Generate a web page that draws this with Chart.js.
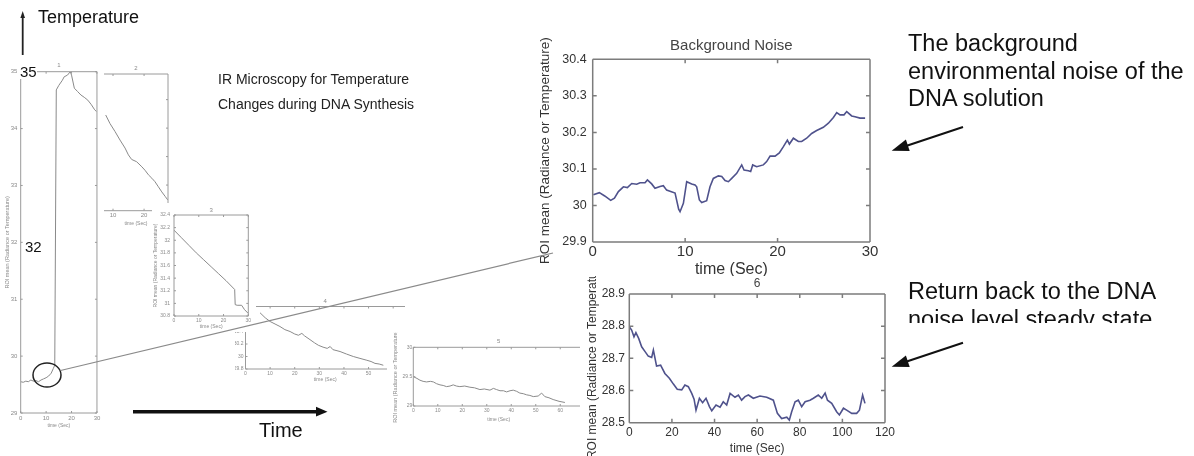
<!DOCTYPE html>
<html><head><meta charset="utf-8">
<script src="https://cdn.jsdelivr.net/npm/chart.js@4.4.0/dist/chart.umd.min.js"></script>
<style>
html,body{margin:0;padding:0;background:#fff;}
body{width:1194px;height:456px;position:relative;overflow:hidden;font-family:"Liberation Sans",Arial,sans-serif;}
canvas{position:absolute;background:#fff;}
.t{position:absolute;white-space:nowrap;line-height:1;color:#111;}
</style></head><body>
<canvas id="p1"></canvas>
<canvas id="p2"></canvas>
<canvas id="p4"></canvas>
<canvas id="p5"></canvas>
<canvas id="p3"></canvas>
<canvas id="p6"></canvas>
<canvas id="p7"></canvas>
<svg width="1194" height="456" style="position:absolute;left:0;top:0;pointer-events:none">
  <line x1="22.7" y1="55" x2="22.7" y2="16" stroke="#222" stroke-width="1.8"/>
  <polygon points="22.7,11 20.4,18 25,18" fill="#222"/>
  <line x1="133" y1="411.7" x2="318" y2="411.7" stroke="#111" stroke-width="3.5"/>
  <polygon points="327.5,411.7 316,406.8 316,416.6" fill="#111"/>
  <ellipse cx="47" cy="375" rx="14" ry="12" fill="none" stroke="#222" stroke-width="1.5"/>
  <line x1="60.5" y1="370.5" x2="553" y2="253" stroke="#8a8a8a" stroke-width="1.2"/>
  <line x1="963" y1="127" x2="906" y2="146" stroke="#111" stroke-width="2"/>
  <polygon points="891.7,150.7 909.7,151.0 905.9,139.6" fill="#111"/>
  <line x1="963" y1="342.7" x2="906" y2="361.7" stroke="#111" stroke-width="2"/>
  <polygon points="891.7,366.7 909.7,367.0 905.9,355.6" fill="#111"/>
</svg>
<div class="t" style="left:38px;top:8px;font-size:18px;">Temperature</div>
<div class="t" style="left:20px;top:64px;font-size:15px;background:#fff;">35</div>
<div class="t" style="left:25px;top:239px;font-size:15px;">32</div>
<div class="t" style="left:218px;top:72px;font-size:14px;color:#222;">IR Microscopy for Temperature</div>
<div class="t" style="left:218px;top:97px;font-size:14px;color:#222;">Changes during DNA Synthesis</div>
<div class="t" style="left:259px;top:420px;font-size:20px;">Time</div>
<div class="t" style="left:908px;top:30px;font-size:23.5px;line-height:27.5px;">The background<br>environmental noise of the<br>DNA solution</div>
<div class="t" style="left:908px;top:278px;height:45px;overflow:hidden;font-size:23.5px;line-height:27.5px;">Return back to the DNA<br>noise level steady state</div>
<script>
// ---------- data ----------
const p1Time = [0,1,2,3,4,5,6,7,8,9,10,11,12,12.8,13.4,14,15,16.4,17.1,18.4,19.5,20,21.1,22.4,23.7,25,26.4,27.8,29.1,29.8];
const p1Temp = [29.55,29.54,29.56,29.55,29.58,29.56,29.57,29.55,29.58,29.6,29.62,29.65,29.7,29.78,29.84,34.68,34.76,34.85,34.91,34.94,35.0,34.94,34.71,34.65,34.59,34.55,34.5,34.42,34.33,34.3];
const p1XTicks = [0,10,20,30];
const p1YTicks = [29,30,31,32,33,34,35];

const p2Time = [7.65,9.03,10.65,12.26,13.87,14.95,16.0,17.6,19.3,20.3,21.4,22.5,23.5,24.6,25.7,26.8,27.6];
const p2Temp = [33.73,33.58,33.44,33.29,33.15,33.03,32.95,32.91,32.82,32.76,32.68,32.62,32.56,32.47,32.38,32.30,32.24];
const p2XTicks = [10,20];
const p2YTicks = [32.5,33,33.5,34];

const p3Time = [0,3,6,9,12,15,18,21,24.5,24.7,25.5,27.3,28.5,30];
const p3Temp = [32.16,32.04,31.92,31.8,31.69,31.58,31.47,31.36,31.22,30.98,30.97,30.97,30.9,30.84];
const p3XTicks = [0,10,20,30];
const p3YTicks = [30.8,31,31.2,31.4,31.6,31.8,32,32.2,32.4];

const p4Time = [5.9,8,10,12,14,16,18.1,20,21.5,22.9,24,26.2,28,29.6,31.5,33.2,34.4,35.5,38.4,41,43.8,46.5,49.3,51,52.6,54.3,56];
const p4Temp = [30.70,30.62,30.56,30.52,30.48,30.43,30.40,30.36,30.34,30.37,30.33,30.27,30.22,30.18,30.15,30.13,30.16,30.11,30.08,30.04,30.00,29.97,29.94,29.92,29.89,29.88,29.86];
const p4XTicks = [0,10,20,30,40,50,60];
const p4YTicks = [29.8,30,30.2,30.4,30.6,30.8];

const p5Time = [0,1.5,2.7,4,5.4,7,8.2,9.5,10.9,12.2,13.6,15,16.3,17.6,19,21,23.1,25,27.2,29,31.3,32.7,34,35.4,36.8,38.1,39.5,40.8,42.2,43.5,44.9,46.3,47.6,49,51,52.4,53.7,55.4,57.1,59.5,61.9];
const p5Temp = [29.5,29.47,29.44,29.42,29.41,29.42,29.41,29.38,29.36,29.35,29.33,29.34,29.36,29.34,29.33,29.34,29.32,29.31,29.28,29.29,29.27,29.3,29.28,29.26,29.26,29.24,29.26,29.27,29.25,29.22,29.21,29.19,29.18,29.16,29.17,29.22,29.16,29.14,29.11,29.08,29.06];
const p5XTicks = [0,10,20,30,40,50,60];
const p5YTicks = [29,29.5,30];

const noiseTime = [0.07,0.72,1.3,1.95,2.35,2.78,3.32,3.75,4.22,4.76,5.12,5.66,5.92,6.38,6.74,7.28,7.64,8.0,8.44,8.91,9.3,9.45,9.81,10.17,10.71,11.07,11.25,11.54,11.79,12.33,12.69,13.05,13.6,13.96,14.32,14.68,15.04,15.58,16.12,16.37,16.84,17.09,17.31,17.74,18.46,18.82,19.19,19.73,20.19,20.63,21.06,21.28,21.71,22.25,22.61,23.15,23.69,24.23,24.95,25.5,26.04,26.4,26.76,27.19,27.48,28.02,28.38,28.92,29.47];
const noiseTemp = [30.029,30.035,30.026,30.014,30.02,30.038,30.051,30.049,30.06,30.058,30.062,30.062,30.07,30.059,30.047,30.052,30.054,30.042,30.038,30.034,29.99,29.983,30.006,30.065,30.059,30.056,30.051,30.015,30.008,30.013,30.051,30.074,30.081,30.079,30.068,30.065,30.074,30.088,30.111,30.097,30.095,30.093,30.111,30.106,30.111,30.12,30.135,30.135,30.144,30.161,30.179,30.168,30.184,30.175,30.175,30.184,30.197,30.205,30.214,30.225,30.241,30.254,30.248,30.248,30.257,30.245,30.243,30.239,30.239];
const noiseXTicks = [0,10,20,30];
const noiseYTicks = [29.9,30,30.1,30.2,30.3,30.4];

const p6Time = [0,1.1,2.2,3.1,4.4,5.8,7.4,8.9,10.5,11.3,12.8,14.7,16.7,18.8,20.7,22.5,24.6,26.1,27.7,29.3,30.4,31.3,32.9,34.4,36.0,37.6,38.7,40.7,42.6,44.1,45.7,47.3,49.6,51.2,52.7,54.3,55.9,58.2,61.3,64.5,67.6,69.5,71.5,73.9,75.1,76.2,77.8,79.3,80.9,82.5,84.8,86.4,88.7,90.3,91.9,93.0,95.0,97.3,98.6,100.5,102.0,104.4,106.7,108.0,109.5,110.6];
const p6Temp = [28.798,28.788,28.767,28.78,28.762,28.736,28.721,28.707,28.703,28.726,28.676,28.679,28.653,28.638,28.62,28.604,28.602,28.617,28.612,28.591,28.573,28.539,28.576,28.562,28.576,28.55,28.537,28.555,28.548,28.565,28.555,28.591,28.579,28.586,28.57,28.581,28.586,28.576,28.583,28.579,28.57,28.529,28.513,28.517,28.508,28.534,28.565,28.57,28.55,28.565,28.57,28.576,28.586,28.576,28.592,28.57,28.56,28.534,28.524,28.545,28.539,28.529,28.529,28.539,28.586,28.56];
const p6XTicks = [0,20,40,60,80,100,120];
const p6YTicks = [28.5,28.6,28.7,28.8,28.9];

// ---------- helpers ----------
Chart.defaults.font.family = '"Liberation Sans", Arial, Helvetica, sans-serif';

const boxPlugin = {
  id: 'mbox',
  afterDatasetsDraw(chart, args, o) {
    const {ctx, chartArea: a} = chart;
    const xs = chart.scales.x, ys = chart.scales.y;
    const sd = o.sides, L = o.tick;
    ctx.save();
    ctx.strokeStyle = o.color; ctx.lineWidth = o.width;
    ctx.beginPath();
    if (sd.includes('t')) { ctx.moveTo(a.left, a.top); ctx.lineTo(a.right, a.top); }
    if (sd.includes('b')) { ctx.moveTo(a.left, a.bottom); ctx.lineTo(a.right, a.bottom); }
    if (sd.includes('l')) { ctx.moveTo(a.left, a.top); ctx.lineTo(a.left, a.bottom); }
    if (sd.includes('r')) { ctx.moveTo(a.right, a.top); ctx.lineTo(a.right, a.bottom); }
    xs.ticks.forEach(t => {
      const p = xs.getPixelForValue(t.value);
      if (sd.includes('b')) { ctx.moveTo(p, a.bottom); ctx.lineTo(p, a.bottom - L); }
      if (sd.includes('t')) { ctx.moveTo(p, a.top); ctx.lineTo(p, a.top + L); }
    });
    ys.ticks.forEach(t => {
      const p = ys.getPixelForValue(t.value);
      if (sd.includes('l')) { ctx.moveTo(a.left, p); ctx.lineTo(a.left + L, p); }
      if (sd.includes('r')) { ctx.moveTo(a.right, p); ctx.lineTo(a.right - L, p); }
    });
    ctx.stroke();
    ctx.restore();
  }
};

const YLABEL = 'ROI mean (Radiance or Temperature)';
const small = {lineColor:'#8a8a8a', lineWidth:1, boxColor:'#9a9a9a', boxWidth:1, tickLen:2,
  tickColor:'#8a8a8a', labelColor:'#8a8a8a', titleColor:'#8a8a8a'};
const big = {lineColor:'#4f528c', lineWidth:1.6, boxColor:'#7c7c7c', boxWidth:1.5, tickLen:4,
  tickColor:'#333', labelColor:'#333', titleColor:'#444'};

function makePlot(id, g, s) {
  const cv = document.getElementById(id);
  cv.width = g.W; cv.height = g.H;
  cv.style.left = g.L + 'px'; cv.style.top = g.T + 'px';
  const yW = g.l - g.L, xH = g.T + g.H - g.b, padR = g.L + g.W - g.r, titleH = g.t - g.T;
  const tlh = s.titleSize * 1.2;
  return new Chart(cv, {
    type: 'line',
    data: { datasets: [{ data: s.x.map((v, i) => ({x: v, y: s.y[i]})),
      borderColor: s.lineColor, borderWidth: s.lineWidth, pointRadius: 0, fill: false, tension: 0 }] },
    options: {
      responsive: false, animation: false, devicePixelRatio: 1,
      layout: { padding: { left: 0, top: 0, right: padR, bottom: 0 } },
      plugins: {
        legend: { display: false }, tooltip: { enabled: false },
        title: { display: true, text: s.title, fullSize: false, color: s.titleColor,
          font: { size: s.titleSize, weight: 'normal' },
          padding: { top: s.titleTop, bottom: Math.max(0, titleH - s.titleTop - tlh) } },
        mbox: { sides: s.sides, color: s.boxColor, width: s.boxWidth, tick: s.tickLen }
      },
      scales: {
        x: { type: 'linear', position: 'bottom', min: s.xmin, max: s.xmax,
          grid: { display: false, drawTicks: false }, border: { display: false },
          ticks: { display: true, padding: s.xtPad, font: { size: s.xtSize }, color: s.tickColor,
            autoSkip: false, maxRotation: 0, minRotation: 0, callback: v => String(v) },
          afterBuildTicks: sc => { sc.ticks = s.xTicks.map(v => ({value: v})); },
          afterFit: sc => { sc.height = xH; },
          title: { display: true, text: 'time (Sec)', color: s.labelColor,
            font: { size: s.xlSize }, padding: { top: 0, bottom: s.xlPad } } },
        y: { type: 'linear', position: 'left', min: s.ymin, max: s.ymax,
          grid: { display: false, drawTicks: false }, border: { display: false },
          ticks: { display: s.ytShow !== false, padding: s.ytPad, font: { size: s.ytSize }, color: s.tickColor,
            autoSkip: false, callback: v => String(v) },
          afterBuildTicks: sc => { sc.ticks = s.yTicks.map(v => ({value: v})); },
          afterFit: sc => { sc.width = yW; },
          title: { display: !!s.ylabel, text: s.ylabel || '', color: s.labelColor,
            font: { size: s.ylSize || 5 }, padding: { top: s.ylPad || 0, bottom: 0 } } }
      }
    },
    plugins: [boxPlugin]
  });
}

makePlot('p1', {L:0, T:58, W:102, H:376, l:20.7, t:71.7, r:97, b:413}, Object.assign({}, small, {
  x: p1Time, y: p1Temp, xTicks: p1XTicks, yTicks: p1YTicks, xmin: 0, xmax: 30, ymin: 29, ymax: 35,
  title: '1', titleSize: 6, titleTop: 3.4, sides: 'tblr',
  xtPad: 1.7, xtSize: 6, xlSize: 5, xlPad: 5.3, ytPad: 3.4, ytSize: 6, ylabel: YLABEL, ylSize: 5.5, ylPad: 3.7 }));

makePlot('p2', {L:100, T:58, W:72, H:170, l:104, t:74, r:168, b:210.7}, Object.assign({}, small, {
  x: p2Time, y: p2Temp, xTicks: p2XTicks, yTicks: p2YTicks, xmin: 7.1, xmax: 27.7, ymin: 32.05, ymax: 34.45,
  title: '2', titleSize: 6, titleTop: 6.4, sides: 'tbr',
  xtPad: 0.7, xtSize: 6, xlSize: 5, xlPad: 1.7, ytShow: false, ytPad: 2, ytSize: 5 }));

makePlot('p4', {L:235, T:294, W:170, H:92, l:245.5, t:306.5, r:405, b:369}, Object.assign({}, small, {
  x: p4Time, y: p4Temp, xTicks: p4XTicks, yTicks: p4YTicks, xmin: 0, xmax: 64.8, ymin: 29.8, ymax: 30.8,
  title: '4', titleSize: 6, titleTop: 4.1, sides: 'tbl',
  xtPad: 1.3, xtSize: 5, xlSize: 5, xlPad: 3, ytPad: 2, ytSize: 5 }));

makePlot('p5', {L:387, T:332, W:199, H:93, l:413.3, t:347.3, r:584, b:406}, Object.assign({}, small, {
  x: p5Time, y: p5Temp, xTicks: p5XTicks, yTicks: p5YTicks, xmin: 0, xmax: 69.7, ymin: 29, ymax: 30,
  title: '5', titleSize: 6, titleTop: 6.1, sides: 'tblr',
  xtPad: 2, xtSize: 5, xlSize: 5, xlPad: 2.7, ytPad: 1, ytSize: 5, ylabel: YLABEL, ylSize: 5.5, ylPad: 4.7 }));

makePlot('p3', {L:152, T:203, W:104, H:129, l:174, t:215, r:248.3, b:316}, Object.assign({}, small, {
  x: p3Time, y: p3Temp, xTicks: p3XTicks, yTicks: p3YTicks, xmin: 0, xmax: 30, ymin: 30.8, ymax: 32.4,
  title: '3', titleSize: 6, titleTop: 3.4, sides: 'tblr',
  xtPad: 1.7, xtSize: 5, xlSize: 5, xlPad: 2.3, ytPad: 4, ytSize: 5, ylabel: YLABEL, ylSize: 5, ylPad: 1 }));

makePlot('p6', {L:536, T:30, W:344, H:250, l:592.7, t:59.3, r:870, b:242}, Object.assign({}, big, {
  x: noiseTime, y: noiseTemp, xTicks: noiseXTicks, yTicks: noiseYTicks, xmin: 0, xmax: 30, ymin: 29.9, ymax: 30.4,
  title: 'Background Noise', titleSize: 15, titleTop: 7, sides: 'tblr',
  xtPad: 0.7, xtSize: 15, xlSize: 16, xlPad: 0.9, ytPad: 6, ytSize: 12.5, ylabel: YLABEL, ylSize: 13.5, ylPad: 0.9 }));

makePlot('p7', {L:580, T:276, W:320, H:180, l:629.3, t:294, r:885, b:422.7}, Object.assign({}, big, {
  x: p6Time, y: p6Temp, xTicks: p6XTicks, yTicks: p6YTicks, xmin: 0, xmax: 120, ymin: 28.5, ymax: 28.9,
  title: '6', titleSize: 12, titleTop: 0, sides: 'tblr',
  xtPad: 2.6, xtSize: 12, xlSize: 12, xlPad: 0.5, ytPad: 4.3, ytSize: 12, ylabel: YLABEL, ylSize: 12, ylPad: 5.3 }));
</script>
</body></html>
